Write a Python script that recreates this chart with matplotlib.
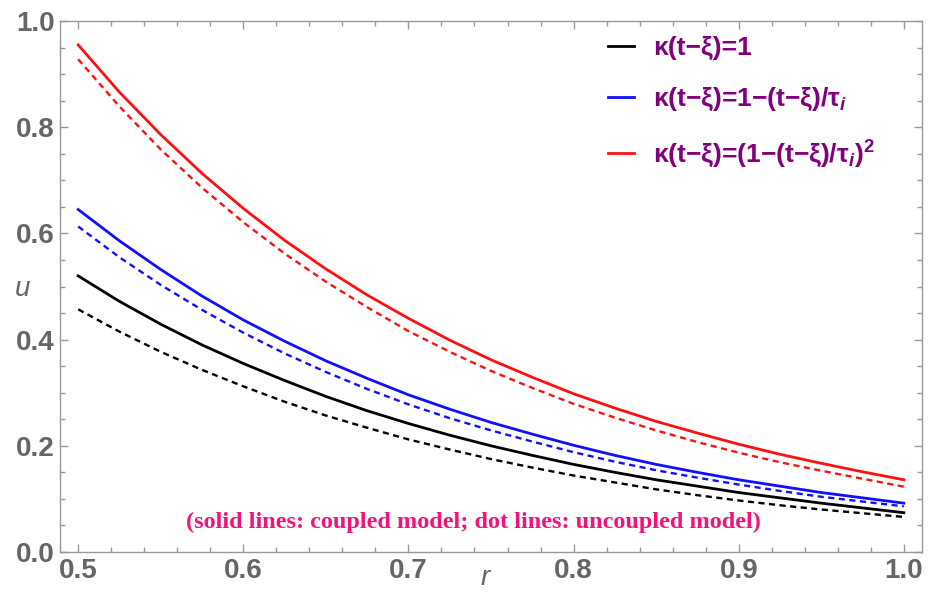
import numpy as np
import matplotlib
matplotlib.use('Agg')
import matplotlib.pyplot as plt
from matplotlib.ticker import MultipleLocator

plt.rcParams['font.family'] = ['Liberation Sans', 'DejaVu Sans']
plt.rcParams['mathtext.fontset'] = 'custom'
plt.rcParams['mathtext.it'] = 'Liberation Sans:italic:bold'
plt.rcParams['mathtext.rm'] = 'Liberation Sans:bold'

# radial positions and displacement values for each memory kernel
r = [0.500, 0.525, 0.550, 0.575, 0.600, 0.625, 0.650, 0.675, 0.700, 0.725, 0.750,
     0.775, 0.800, 0.825, 0.850, 0.875, 0.900, 0.925, 0.950, 0.975, 1.000]

u_const_coupled = [0.520, 0.472, 0.429, 0.390, 0.355, 0.323, 0.293, 0.266, 0.242, 0.220, 0.200,
                   0.182, 0.165, 0.150, 0.136, 0.124, 0.112, 0.102, 0.092, 0.083, 0.074]
u_const_uncoupled = [0.457, 0.415, 0.377, 0.343, 0.312, 0.283, 0.257, 0.234, 0.212, 0.193, 0.175,
                     0.159, 0.144, 0.131, 0.118, 0.107, 0.097, 0.088, 0.080, 0.073, 0.066]
u_linear_coupled = [0.645, 0.586, 0.532, 0.482, 0.437, 0.397, 0.360, 0.327, 0.296, 0.269, 0.244,
                    0.222, 0.201, 0.182, 0.165, 0.150, 0.136, 0.124, 0.112, 0.102, 0.092]
u_linear_uncoupled = [0.613, 0.555, 0.503, 0.456, 0.413, 0.374, 0.339, 0.307, 0.278, 0.252, 0.229,
                      0.208, 0.188, 0.170, 0.154, 0.140, 0.127, 0.115, 0.104, 0.095, 0.086]
u_quad_coupled = [0.955, 0.866, 0.786, 0.713, 0.647, 0.587, 0.533, 0.484, 0.440, 0.399, 0.362,
                  0.329, 0.298, 0.271, 0.246, 0.224, 0.203, 0.184, 0.167, 0.151, 0.136]
u_quad_uncoupled = [0.928, 0.839, 0.758, 0.686, 0.621, 0.562, 0.509, 0.461, 0.416, 0.377, 0.341,
                    0.309, 0.279, 0.253, 0.229, 0.207, 0.187, 0.169, 0.153, 0.138, 0.123]

labels = [
    'κ(t−ξ)=1',
    'κ(t−ξ)=1−(t−ξ)/τ$_i$',
    'κ(t−ξ)=(1−(t−ξ)/τ$_i$)$^2$',
]
colors = ['black', '#1010ff', '#ff1010']

GRAY = '#666666'

fig = plt.figure(figsize=(9.29, 5.92), dpi=100)
ax = fig.add_axes([60 / 929, 40 / 592, 862 / 929, 531 / 592])

series = [(u_const_coupled, u_const_uncoupled),
          (u_linear_coupled, u_linear_uncoupled),
          (u_quad_coupled, u_quad_uncoupled)]
handles = []
for (solid, dashed), c, lab in zip(series, colors, labels):
    h, = ax.plot(r, solid, color=c, lw=2.0, label=lab)
    ax.plot(r, dashed, color=c, lw=1.7, dashes=(2.6, 1.9))
    handles.append(h)

ax.set_xlim(0.489, 1.011)
ax.set_ylim(0.0, 1.0)
ax.xaxis.set_major_locator(MultipleLocator(0.1))
ax.xaxis.set_minor_locator(MultipleLocator(0.02))
ax.yaxis.set_major_locator(MultipleLocator(0.2))
ax.yaxis.set_minor_locator(MultipleLocator(0.05))
ax.xaxis.set_major_formatter(plt.FuncFormatter(lambda v, p: f'{v:.1f}'))
ax.yaxis.set_major_formatter(plt.FuncFormatter(lambda v, p: f'{v:.1f}'))

ax.tick_params(which='both', direction='in', top=True, right=True,
               color='#999999', width=1.0)
ax.tick_params(which='major', length=6, labelsize=20, labelcolor=GRAY, pad=4)
ax.tick_params(which='minor', length=3.5)
for lbl in ax.get_xticklabels() + ax.get_yticklabels():
    lbl.set_fontweight('bold')
for sp in ax.spines.values():
    sp.set_color('#999999')
    sp.set_linewidth(1.0)

ax.set_xlabel('r', fontsize=20, style='italic', color=GRAY)
ax.xaxis.set_label_coords(0.493, -0.025, transform=ax.transAxes)
ax.xaxis.label.set_verticalalignment('top')
ax.set_ylabel('u', fontsize=20, style='italic', color=GRAY, rotation=0,
              ha='center', va='center')
ax.yaxis.set_label_coords(-0.044, 0.495)

leg = ax.legend(handles=handles, loc='upper left', bbox_to_anchor=(548 / 862, 0.972),
                frameon=False, borderpad=0, borderaxespad=0,
                handlelength=1.0, handletextpad=0.7,
                labelspacing=0.98, prop={'size': 19, 'weight': 'bold'},
                labelcolor='#800080')

ax.text(0.48, 0.0565, '(solid lines: coupled model; dot lines: uncoupled model)',
        transform=ax.transAxes, ha='center', va='center', color='#f0147a',
        fontsize=17.5, fontweight='bold', family='Liberation Serif')

fig.savefig('out.png', dpi=100)
